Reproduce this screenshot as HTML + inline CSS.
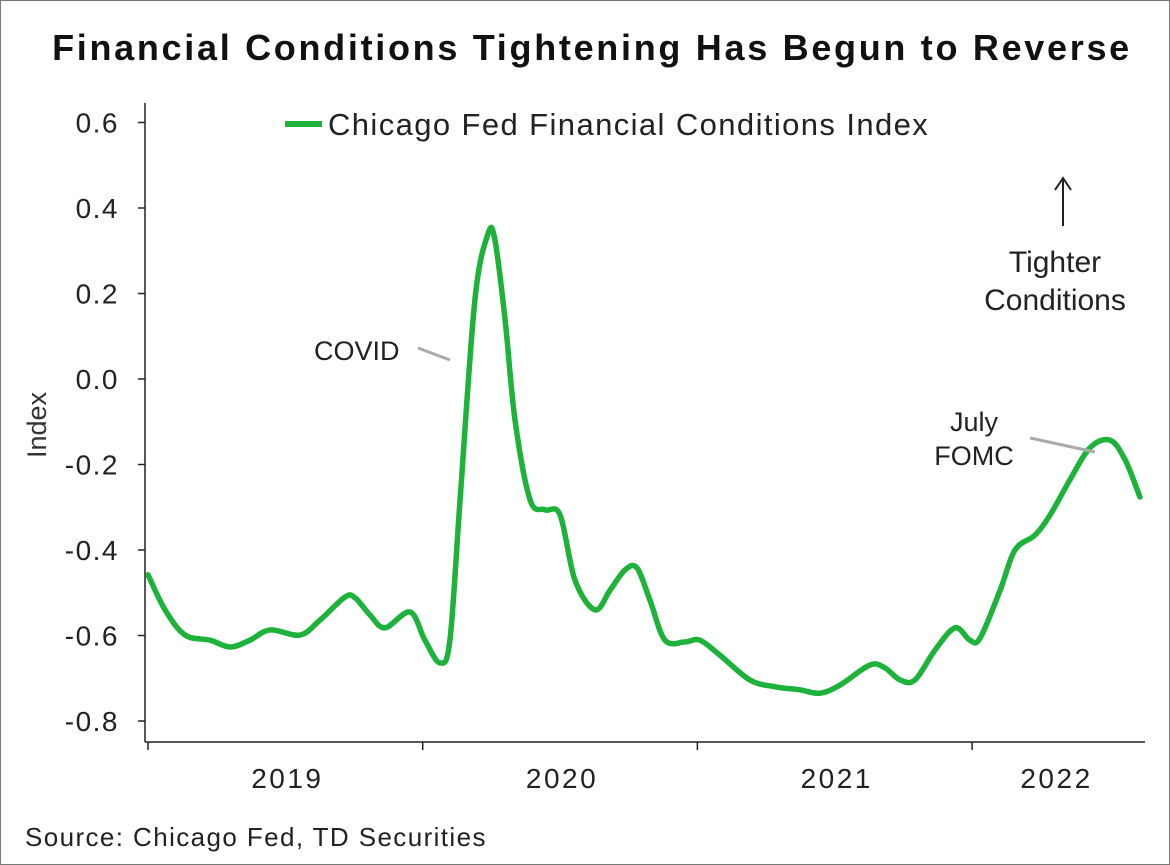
<!DOCTYPE html>
<html><head><meta charset="utf-8"><style>
html,body{margin:0;padding:0;background:#fff;}
svg{display:block;font-family:"Liberation Sans",Arial,sans-serif;}
</style></head><body>
<svg id="chart" width="1170" height="865" viewBox="0 0 1170 865">
<rect x="0.5" y="0.5" width="1169" height="864" fill="#fff" stroke="#777" stroke-width="1"/>
<text x="592" y="60" text-anchor="middle" font-size="36" font-weight="bold" letter-spacing="2.7" fill="#111">Financial Conditions Tightening Has Begun to Reverse</text>
<g id="yaxis"></g>
<g id="xaxis"></g>
<text transform="translate(46,425) rotate(-90)" text-anchor="middle" font-size="27" fill="#333">Index</text>
<g>
<line x1="285" y1="124" x2="322" y2="124" stroke="#1db33a" stroke-width="6"/>
<text x="328" y="135" font-size="31" letter-spacing="1.4" fill="#222">Chicago Fed Financial Conditions Index</text>
</g>
<path id="series" fill="none" stroke="#1db33a" stroke-width="5.5" stroke-linejoin="round" stroke-linecap="round"/>
<g>
<text x="314" y="360" font-size="27" fill="#222">COVID</text>
<line x1="418" y1="348" x2="450" y2="360" stroke="#aaa" stroke-width="3"/>
</g>
<g>
<text x="974" y="431" text-anchor="middle" font-size="27" fill="#222">July</text>
<text x="974" y="465" text-anchor="middle" font-size="27" fill="#222">FOMC</text>
<line x1="1030" y1="438" x2="1095" y2="452" stroke="#aaa" stroke-width="3"/>
</g>
<g>
<line x1="1063" y1="180" x2="1063" y2="226" stroke="#222" stroke-width="2"/>
<polyline points="1055,190 1063,178 1071,190" fill="none" stroke="#222" stroke-width="2"/>
<text x="1055" y="272" text-anchor="middle" font-size="30" fill="#222">Tighter</text>
<text x="1055" y="310" text-anchor="middle" font-size="30" fill="#222">Conditions</text>
</g>
<text x="25" y="846" font-size="26" letter-spacing="1.4" fill="#222">Source: Chicago Fed, TD Securities</text>
</svg>
<script>
const dates=[0.000,0.062,0.135,0.226,0.299,0.371,0.444,0.553,0.626,0.717,0.754,0.808,0.863,0.954,1.008,1.063,1.099,1.136,1.190,1.238,1.263,1.300,1.336,1.391,1.445,1.500,1.554,1.627,1.682,1.736,1.780,1.827,1.882,1.955,2.009,2.082,2.191,2.283,2.373,2.446,2.519,2.628,2.683,2.738,2.792,2.865,2.938,2.992,3.029,3.102,3.156,3.229,3.284,3.356,3.429,3.502,3.557,3.611];
const values=[-0.458,-0.540,-0.599,-0.611,-0.627,-0.611,-0.587,-0.599,-0.564,-0.510,-0.512,-0.552,-0.582,-0.545,-0.611,-0.664,-0.611,-0.283,0.185,0.340,0.325,0.138,-0.096,-0.283,-0.306,-0.318,-0.470,-0.540,-0.494,-0.447,-0.442,-0.517,-0.611,-0.615,-0.611,-0.646,-0.704,-0.720,-0.727,-0.735,-0.716,-0.669,-0.676,-0.704,-0.704,-0.634,-0.582,-0.611,-0.606,-0.494,-0.400,-0.365,-0.318,-0.236,-0.161,-0.143,-0.189,-0.276];
const yTicks=[0.6,0.4,0.2,0.0,-0.2,-0.4,-0.6,-0.8];
const yTickLabels=["0.6","0.4","0.2","0.0","-0.2","-0.4","-0.6","-0.8"];
const years=["2019","2020","2021","2022"];
const yearLabelPos=[0.5,1.5,2.5,3.3];
const NS="http://www.w3.org/2000/svg";
const X0=148,YW=274.7,Y0=379,PY=427.5;
const xs=t=>X0+t*YW, ys=v=>Y0-v*PY;
const ya=document.getElementById('yaxis'), xa=document.getElementById('xaxis');
function mk(tag,attrs,parent){const e=document.createElementNS(NS,tag);for(const k in attrs)e.setAttribute(k,attrs[k]);parent.appendChild(e);return e;}
let l=mk('line',{x1:145,y1:103,x2:145,y2:742,stroke:'#222','stroke-width':1.5},ya);


yTicks.forEach((v,i)=>{
 const t=mk('line',{x1:138,y1:ys(v),x2:145,y2:ys(v),stroke:'#222','stroke-width':1.5},ya);
 
 
 const tx=mk('text',{x:119,y:ys(v)+10,'text-anchor':'end','font-size':28,'letter-spacing':1.5,fill:'#222'},ya);
 tx.textContent=yTickLabels[i];
 
 
});
l=mk('line',{x1:145,y1:742,x2:1145,y2:742,stroke:'#222','stroke-width':1.5},xa);


years.forEach((y,i)=>{
 const t=mk('line',{x1:xs(i),y1:742,x2:xs(i),y2:750,stroke:'#222','stroke-width':1.5},xa);
 
 
 const tx=mk('text',{x:xs(yearLabelPos[i])+2,y:788,'text-anchor':'middle','font-size':28,'letter-spacing':2.5,fill:'#222'},xa);
 tx.textContent=y;
 
 
});
const P=dates.map((d,i)=>[xs(d),ys(values[i])]);
let d='M'+P[0][0]+','+P[0][1];
for(let i=0;i<P.length-1;i++){
 const p0=P[Math.max(0,i-1)],p1=P[i],p2=P[i+1],p3=P[Math.min(P.length-1,i+2)];
 const k=1/6;
 const c1=[p1[0]+(p2[0]-p0[0])*k,p1[1]+(p2[1]-p0[1])*k];
 const c2=[p2[0]-(p3[0]-p1[0])*k,p2[1]-(p3[1]-p1[1])*k];
 d+=' C'+c1.join(',')+' '+c2.join(',')+' '+p2.join(',');
}
document.getElementById('series').setAttribute('d',d);
</script>
</body></html>
